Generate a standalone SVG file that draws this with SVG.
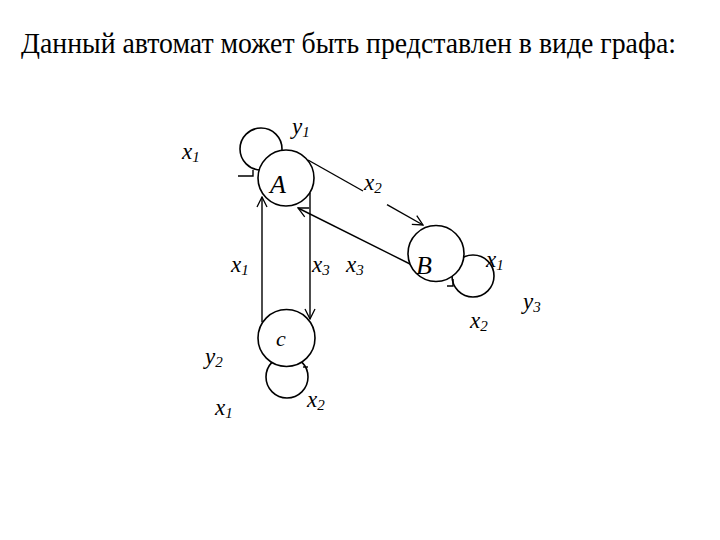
<svg xmlns="http://www.w3.org/2000/svg" width="720" height="540" viewBox="0 0 720 540">
<defs>
<marker id="arr" viewBox="0 0 12 12" refX="11" refY="6" markerWidth="12" markerHeight="12" markerUnits="userSpaceOnUse" orient="auto">
<path d="M1,1 L11,6 L1,11" fill="none" stroke="#000" stroke-width="1.3"/>
</marker>
<style>
.ln{fill:none;stroke:#000;stroke-width:1.4}
.nd{fill:#fff;stroke:#000;stroke-width:1.6}
.lp{fill:none;stroke:#000;stroke-width:1.6}
.lb{font-family:'Liberation Serif','DejaVu Serif',serif;font-style:italic;font-size:23px;fill:#000}
.sb{font-size:15px}
.nm{font-family:'Liberation Serif','DejaVu Serif',serif;font-style:italic;font-size:26px;fill:#000}
.tt{font-family:'Liberation Serif','DejaVu Serif',serif;font-size:29px;fill:#000}
</style>
</defs>
<rect width="720" height="540" fill="#fff"/>
<text class="tt" x="21" y="53" textLength="655" lengthAdjust="spacingAndGlyphs">Данный автомат может быть представлен в виде графа:</text>
<g id="connectors">
<circle class="lp" cx="261" cy="149" r="21"/>
<path class="ln" d="M238,176 H253 V170"/>
<circle class="lp" cx="473" cy="276" r="21"/>
<path class="ln" d="M447,286 H453 V279"/>
<circle class="lp" cx="287" cy="377" r="21"/>
<path class="ln" d="M303,367 H308"/>
<line class="ln" x1="262" y1="322" x2="262" y2="197" marker-end="url(#arr)"/>
<line class="ln" x1="310" y1="193" x2="310" y2="319" marker-end="url(#arr)"/>
<line class="ln" x1="308" y1="160" x2="363" y2="191"/>
<line class="ln" x1="387" y1="204.6" x2="423" y2="225" marker-end="url(#arr)"/>
<line class="ln" x1="412" y1="265" x2="298" y2="208" marker-end="url(#arr)"/>
</g>
<g id="node-A">
<circle class="nd" cx="286" cy="178" r="28"/>
<text class="nm" x="270" y="193">A</text>
</g>
<g id="node-B">
<circle class="nd" cx="436" cy="253.5" r="28"/>
<text class="nm" x="416" y="274">B</text>
</g>
<g id="node-C">
<circle class="nd" cx="286.5" cy="338" r="28.5"/>
<text class="nm" x="276" y="346" style="font-size:22px">c</text>
</g>
<g id="labels">
<text class="lb" x="182" y="159">x<tspan class="sb" dy="3">1</tspan></text>
<text class="lb" x="292" y="134">y<tspan class="sb" dy="3">1</tspan></text>
<text class="lb" x="364" y="190">x<tspan class="sb" dy="3">2</tspan></text>
<text class="lb" x="231" y="272">x<tspan class="sb" dy="3">1</tspan></text>
<text class="lb" x="312" y="272">x<tspan class="sb" dy="3">3</tspan></text>
<text class="lb" x="346" y="272">x<tspan class="sb" dy="3">3</tspan></text>
<text class="lb" x="486" y="267">x<tspan class="sb" dy="3">1</tspan></text>
<text class="lb" x="523" y="309">y<tspan class="sb" dy="3">3</tspan></text>
<text class="lb" x="470" y="328">x<tspan class="sb" dy="3">2</tspan></text>
<text class="lb" x="205" y="364">y<tspan class="sb" dy="3">2</tspan></text>
<text class="lb" x="215" y="415">x<tspan class="sb" dy="3">1</tspan></text>
<text class="lb" x="307" y="407">x<tspan class="sb" dy="3">2</tspan></text>
</g>
</svg>
